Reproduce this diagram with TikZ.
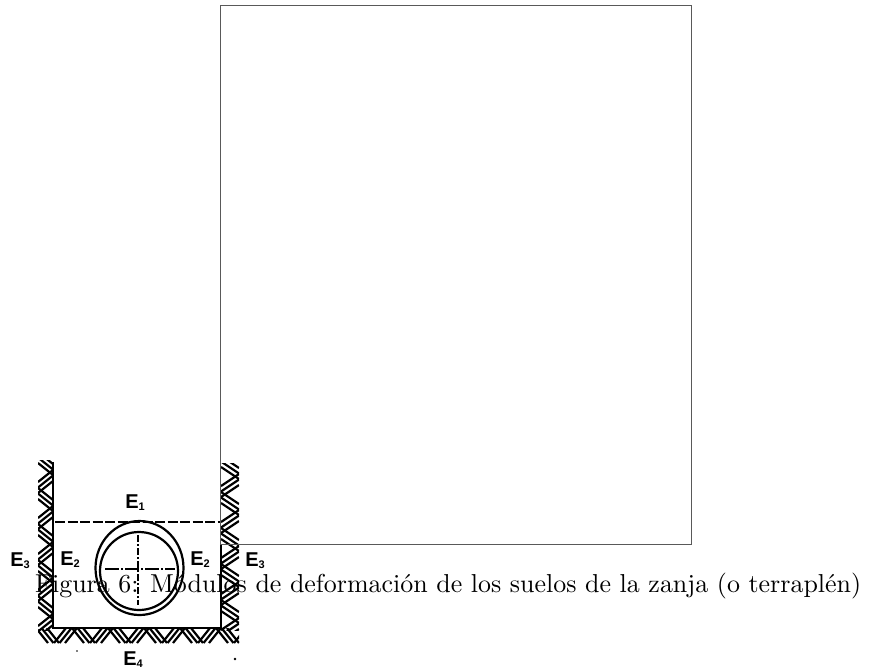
\documentclass[tikz,border=0pt]{standalone}
\usepackage{fontspec}
\newfontfamily\labelfont{Liberation Sans}[Scale=1]
\newfontfamily\capfont{lmroman10-regular}[Extension=.otf]
\tikzset{
 wallline/.style={line width=2.4pt,black},
 hatch/.style={line width=2.2pt,black,line cap=butt},
 lbl/.style={inner sep=0pt,font=\labelfont\fontsize{20}{20}\selectfont},
 captiontext/.style={inner sep=0pt,anchor=base west,font=\capfont\fontsize{25.93}{30}\selectfont},
 centerl/.style={line width=1.8pt,black}
}
\newcommand{\Elab}[1]{\textbf{E}\raisebox{-2pt}{\fontsize{11}{11}\selectfont\textbf{#1}}}
\begin{document}
\begin{tikzpicture}[x=1pt,y=-1pt]
\useasboundingbox (0,0) rectangle (877,670);
\fill[white] (0,0) rectangle (877,670);
% left wall hatching
\begin{scope}
\clip (38,460) rectangle (53,630);
\foreach \y/\s in {452/1,470/-1,488/1,506/-1,524/1,542/-1,560/1,578/-1,596/1,614/-1}{
  \foreach \d in {0,5.5,11}{
    \draw[hatch] (38,\y+\d+6-6*\s) -- (53,\y+\d+6+6*\s);
  }
}
\end{scope}
% right wall hatching
\begin{scope}
\clip (221,463) rectangle (239,630);
\foreach \y/\s in {456/1,474/-1,492/1,510/-1,528/1,546/-1,564/1,582/-1,600/1,618/-1}{
  \foreach \d in {0,5.5,11}{
    \draw[hatch] (221,\y+\d+6-6*\s) -- (239,\y+\d+6+6*\s);
  }
}
\end{scope}
% bottom hatching
\begin{scope}
\clip (38,628) rectangle (239,643);
\foreach \x/\s in {36/1,54/-1,72/1,90/-1,108/1,126/-1,144/1,162/-1,180/1,198/-1,216/1,234/-1}{
  \foreach \d in {0,5.5,11}{
    \draw[hatch] (\x+\d+6-6*\s,628) -- (\x+\d+6+6*\s,643);
  }
}
\end{scope}
% trench
\draw[wallline] (53,462) -- (53,628) -- (221,628) -- (221,544);
\draw[line width=1.8pt,dash pattern=on 10pt off 2.5pt] (55,522) -- (221,522);
% pipe
\draw[line width=2.2pt] (139.5,568) ellipse[x radius=44,y radius=47];
\draw[line width=2.2pt] (139,571) circle[radius=39];
\draw[centerl,dash pattern=on 14pt off 2pt on 2pt off 2pt] (105,569) -- (175,569);
\draw[line width=1.5pt,dash pattern=on 7pt off 2pt on 2pt off 2pt] (138,535) -- (138,605);
% labels
\node[lbl] (e1) at (135,503) {\Elab{1}};
\node[lbl] (e2l) at (70,560) {\Elab{2}};
\node[lbl] (e2r) at (200,560) {\Elab{2}};
\node[lbl] (e3l) at (20,561) {\Elab{3}};
\node[lbl] (e3r) at (255,561) {\Elab{3}};
\node[lbl] (e4) at (133,660) {\Elab{4}};
\fill (77,651) circle[radius=.8];
\fill (235,659) circle[radius=1.4];
% frame
\draw[line width=.8pt,black!65] (220,5) rectangle (691,544);
% caption
\node[captiontext] (caption) at (35,592) {Figura 6: Módulos de deformación de los suelos de la zanja (o terraplén)};
\end{tikzpicture}
\end{document}
